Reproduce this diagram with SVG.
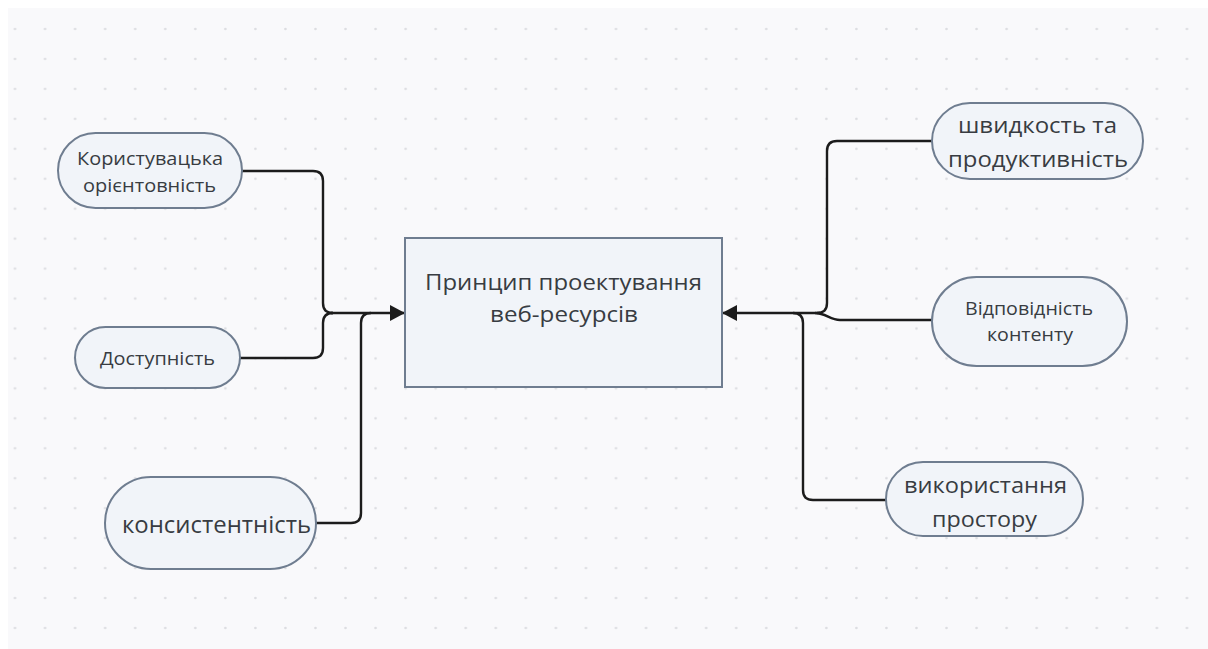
<svg xmlns="http://www.w3.org/2000/svg" width="1208" height="649" viewBox="0 0 1208 649">
<style>
.node{fill:#f1f4f9;stroke:#6f7d90;stroke-width:2}
.lbl{font-family:"Open Sans","Noto Sans","DejaVu Sans",sans-serif;fill:#383c42;text-anchor:middle}
.conn{fill:none;stroke:#1c1c1c;stroke-width:2.4;stroke-linejoin:round}
</style>
<defs>
<pattern id="dots" x="0" y="14" width="30.05" height="29.95" patternUnits="userSpaceOnUse">
<circle cx="15" cy="15" r="1.3" fill="#dcdde1"/>
</pattern>
<marker id="arr" markerWidth="16" markerHeight="16" refX="15" refY="8" orient="auto" markerUnits="userSpaceOnUse">
<path d="M0,0 L15,8 L0,16 Z" fill="#1c1c1c"/>
</marker>
</defs>
<rect x="0" y="0" width="1208" height="649" fill="#ffffff"/>
<rect x="8" y="8" width="1200" height="641" fill="#f9f9fb"/>
<rect x="8" y="8" width="1200" height="641" fill="url(#dots)"/>

<g id="connectors">
<path class="conn" d="M242,171 H313 Q323,171 323,181 V303 Q323,313 333,313"/>
<path class="conn" d="M240,358 H313 Q323,358 323,348 V323 Q323,313 333,313"/>
<path class="conn" d="M316,523 H351 Q361,523 361,513 V323 Q361,313 371,313"/>
<path class="conn" d="M331,313 H405" marker-end="url(#arr)"/>
<path class="conn" d="M932,141 H837 Q827,141 827,151 V303 Q827,313 817,313"/>
<path class="conn" d="M932,320 H840 C830,320 826,313 815,313"/>
<path class="conn" d="M886,500 H813 Q803,500 803,490 V323 Q803,313 793,313"/>
<path class="conn" d="M820,313 H722" marker-end="url(#arr)"/>
</g>

<g id="center">
<rect class="node" x="405" y="238" width="317" height="149" stroke="#7d8a9c"/>
<text class="lbl" font-size="22" fill="#45494f"><tspan x="563.5" y="290" textLength="277" lengthAdjust="spacingAndGlyphs">Принцип проектування</tspan><tspan x="564" y="322" textLength="148" lengthAdjust="spacingAndGlyphs">веб-ресурсів</tspan></text>
</g>

<g id="n1">
<rect class="node" x="58" y="133" width="184" height="75" rx="37.5"/>
<text class="lbl" font-size="18"><tspan x="150" y="165" textLength="146" lengthAdjust="spacingAndGlyphs">Користувацька</tspan><tspan x="149.5" y="192" textLength="133" lengthAdjust="spacingAndGlyphs">орієнтовність</tspan></text>
</g>

<g id="n2">
<rect class="node" x="75" y="327" width="165" height="61" rx="30.5"/>
<text class="lbl" font-size="18"><tspan x="157.5" y="365" textLength="115" lengthAdjust="spacingAndGlyphs">Доступність</tspan></text>
</g>

<g id="n3">
<rect class="node" x="105" y="477" width="211" height="92" rx="46"/>
<text class="lbl" font-size="24"><tspan x="216.5" y="533" textLength="189" lengthAdjust="spacingAndGlyphs">консистентність</tspan></text>
</g>

<g id="n4">
<rect class="node" x="932" y="103" width="211" height="76" rx="38"/>
<text class="lbl" font-size="21"><tspan x="1037.5" y="133" textLength="159" lengthAdjust="spacingAndGlyphs">швидкость та</tspan><tspan x="1038" y="167" textLength="180" lengthAdjust="spacingAndGlyphs">продуктивність</tspan></text>
</g>

<g id="n5">
<rect class="node" x="932" y="277" width="195" height="89" rx="44.5"/>
<text class="lbl" font-size="18"><tspan x="1029" y="315" textLength="128" lengthAdjust="spacingAndGlyphs">Відповідність</tspan><tspan x="1030" y="341" textLength="86" lengthAdjust="spacingAndGlyphs">контенту</tspan></text>
</g>

<g id="n6">
<rect class="node" x="886" y="462" width="197" height="74" rx="37"/>
<text class="lbl" font-size="21"><tspan x="985.5" y="493" textLength="163" lengthAdjust="spacingAndGlyphs">використання</tspan><tspan x="984.5" y="527" textLength="105" lengthAdjust="spacingAndGlyphs">простору</tspan></text>
</g>
</svg>
